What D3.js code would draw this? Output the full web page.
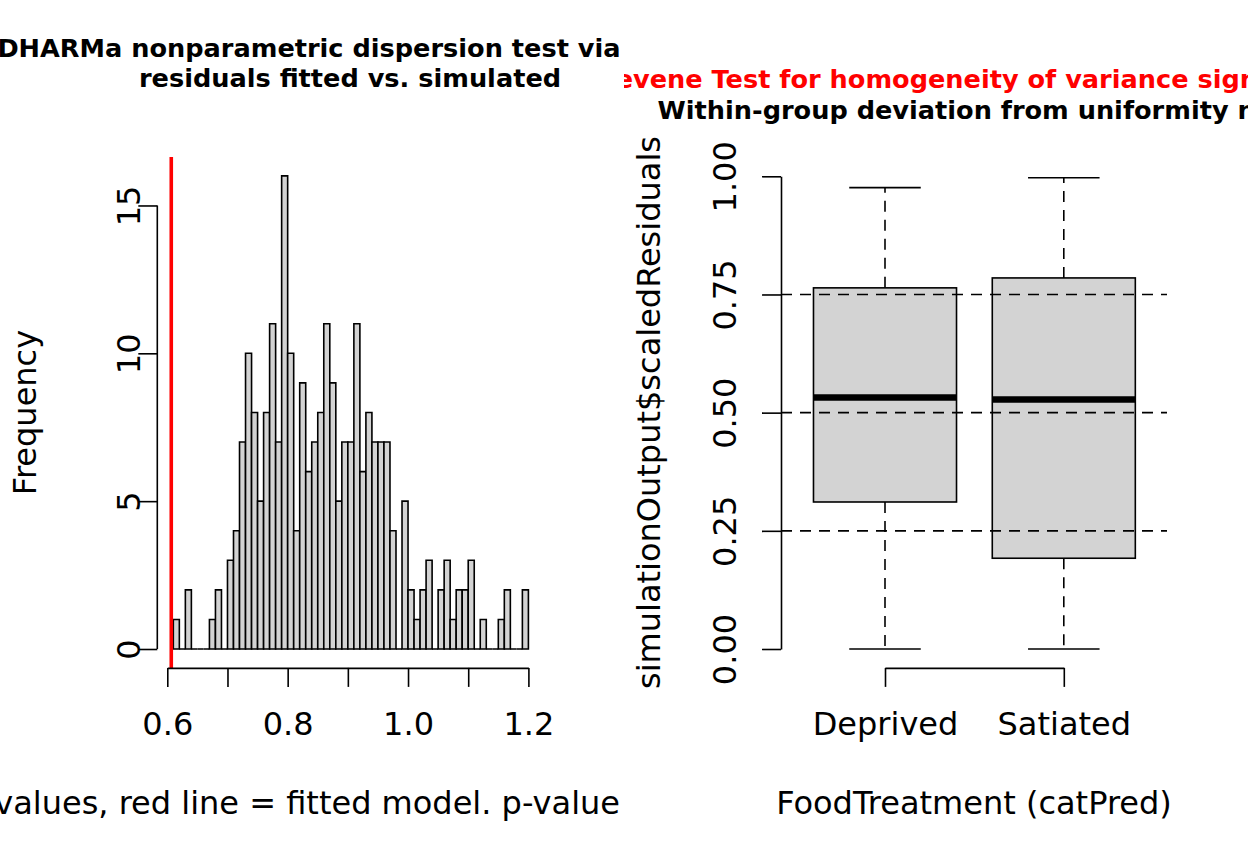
<!DOCTYPE html>
<html><head><meta charset="utf-8">
<script src="https://cdn.jsdelivr.net/npm/d3@7"></script>
<style>body{margin:0;background:#fff} svg{display:block}</style>
</head><body><svg id="c" width="1248" height="864"></svg>
<script>
// ---------- data: left panel (histogram of simulated dispersion) ----------
const binStarts = [0.61,0.62,0.63,0.64,0.65,0.66,0.67,0.68,0.69,0.70,
  0.71,0.72,0.73,0.74,0.75,0.76,0.77,0.78,0.79,0.80,
  0.81,0.82,0.83,0.84,0.85,0.86,0.87,0.88,0.89,0.90,
  0.91,0.92,0.93,0.94,0.95,0.96,0.97,0.98,0.99,1.00,
  1.01,1.02,1.03,1.04,1.05,1.06,1.07,1.08,1.09,1.10,
  1.11,1.12,1.13,1.14,1.15,1.16,1.17,1.18,1.19];
const binWidth = 0.01;
const counts = [1,0,2,0,0,0,1,2,0,3,
  4,7,10,8,5,8,11,7,16,10,
  4,9,6,7,8,11,9,5,7,7,
  11,6,8,7,7,7,4,0,5,2,
  1,2,3,0,2,3,1,2,2,3,
  0,1,0,0,1,2,0,0,2];
const observedValue = 0.6066;
const histXTicks = [0.6,0.7,0.8,0.9,1.0,1.1,1.2];
const histXTickLabels = ["0.6","","0.8","","1.0","","1.2"];
const histYTicks = [0,5,10,15];
const histYTickLabels = ["0","5","10","15"];

// ---------- data: right panel (boxplot by group) ----------
const groups = ["Deprived","Satiated"];
const boxLower  = [0.000, 0.000];
const boxQ1     = [0.311, 0.192];
const boxMedian = [0.532, 0.528];
const boxQ3     = [0.764, 0.785];
const boxUpper  = [0.976, 0.997];
const boxYTicks = [0,0.25,0.5,0.75,1];
const boxYTickLabels = ["0.00","0.25","0.50","0.75","1.00"];
const refLines = [0.25,0.5,0.75];

// ---------- texts ----------
const leftTitle1 = "DHARMa nonparametric dispersion test via";
const leftTitle2 = "residuals fitted vs. simulated";
const leftXLab = "values, red line = fitted model. p-value";
const leftYLab = "Frequency";
const rightTitle1 = "Levene Test for homogeneity of variance significant";
const rightTitle2 = "Within-group deviation from uniformity n.s.";
const rightXLab = "FoodTreatment (catPred)";
const rightYLab = "simulationOutput$scaledResiduals";

// ---------- drawing ----------
const FONT = "DejaVu Sans";
const AX = 32, TT = 25.6, LW = 1.6;
const svg = d3.select("#c");
const defs = svg.append("defs");
defs.append("clipPath").attr("id","clipL").append("rect").attr("x",0).attr("y",0).attr("width",624).attr("height",864);
defs.append("clipPath").attr("id","clipR").append("rect").attr("x",624).attr("y",0).attr("width",624).attr("height",864);

const plotTop = 157.1, plotBottom = 667.9;

// ===== left panel =====
const L = svg.append("g").attr("clip-path","url(#clipL)");
const hx = d3.scaleLinear().domain([0.6,1.2]).range([167.3,528.4]);
const hy = d3.scaleLinear().domain([0,16]).range([649.0,175.9]);

L.append("g").selectAll("path").data(binStarts).join("path")
  .attr("d",(d,i)=>{const x0=hx(d),x1=hx(d+binWidth),y0=hy(0),y1=hy(counts[i]);
     return `M${x0},${y0}V${y1}H${x1}V${y0}Z`;})
  .attr("fill","#d3d3d3").attr("stroke","#000").attr("stroke-width",LW);

L.append("line").attr("x1",hx(observedValue)).attr("x2",hx(observedValue))
  .attr("y1",plotTop).attr("y2",plotBottom).attr("stroke","#ff0000").attr("stroke-width",3.6);

function styleAxis(g){
  g.attr("font-family",FONT).attr("font-size",AX);
  g.selectAll(".tick line").attr("stroke","#000").attr("stroke-width",LW);
  g.select(".domain").attr("stroke","#000").attr("stroke-width",LW);
  g.selectAll("text").attr("fill","#000");
}

const gxL = L.append("g").attr("transform",`translate(0,${plotBottom})`)
  .call(d3.axisBottom(hx).tickValues(histXTicks).tickSize(19).tickSizeOuter(0)
        .tickFormat((d,i)=>histXTickLabels[i]));
styleAxis(gxL);
gxL.selectAll("text").attr("y",735.5-plotBottom).attr("dy",null);

const yAxisXL = 157.3;
const gyL = L.append("g").attr("transform",`translate(${yAxisXL},0)`)
  .call(d3.axisLeft(hy).tickValues(histYTicks).tickSize(19).tickSizeOuter(0)
        .tickFormat((d,i)=>histYTickLabels[i]));
styleAxis(gyL);
gyL.select(".domain").remove();
gyL.append("line").attr("x1",0).attr("x2",0).attr("y1",hy(histYTicks[0])).attr("y2",hy(histYTicks[histYTicks.length-1]))
  .attr("stroke","#000").attr("stroke-width",LW);
gyL.selectAll(".tick text").attr("transform","rotate(-90)").attr("x",0).attr("y",139.5-yAxisXL)
  .attr("dy",null).attr("text-anchor","middle");

L.append("text").attr("x",620.5).attr("y",56.7).attr("text-anchor","end")
  .attr("font-family",FONT).attr("font-weight","bold").attr("font-size",TT).text(leftTitle1);
L.append("text").attr("x",350).attr("y",86.8).attr("text-anchor","middle")
  .attr("font-family",FONT).attr("font-weight","bold").attr("font-size",TT).text(leftTitle2);
L.append("text").attr("x",620).attr("y",813.5).attr("text-anchor","end")
  .attr("font-family",FONT).attr("font-size",AX).text(leftXLab);
L.append("text").attr("transform","translate(35.5,412.5) rotate(-90)").attr("text-anchor","middle")
  .attr("font-family",FONT).attr("font-size",AX).text(leftYLab);

// ===== right panel =====
const R = svg.append("g").attr("clip-path","url(#clipR)");
const bx = d3.scalePoint().domain(groups).range([885,1063.8]);
const unitPx = 1063.8-885;
const halfBox = 0.4*unitPx, halfCap = 0.2*unitPx;
const by = d3.scaleLinear().domain([0,1]).range([649.0,176.3]);
const plotLeftR = 781, plotRightR = 1167;

const bg = R.append("g").selectAll("g").data(groups).join("g");
bg.append("line").attr("x1",d=>bx(d)).attr("x2",d=>bx(d))
  .attr("y1",(d,i)=>by(boxQ3[i])).attr("y2",(d,i)=>by(boxUpper[i]))
  .attr("stroke","#000").attr("stroke-width",LW).attr("stroke-dasharray","11,8");
bg.append("line").attr("x1",d=>bx(d)).attr("x2",d=>bx(d))
  .attr("y1",(d,i)=>by(boxQ1[i])).attr("y2",(d,i)=>by(boxLower[i]))
  .attr("stroke","#000").attr("stroke-width",LW).attr("stroke-dasharray","11,8");
bg.append("line").attr("x1",d=>bx(d)-halfCap).attr("x2",d=>bx(d)+halfCap)
  .attr("y1",(d,i)=>by(boxUpper[i])).attr("y2",(d,i)=>by(boxUpper[i]))
  .attr("stroke","#000").attr("stroke-width",LW);
bg.append("line").attr("x1",d=>bx(d)-halfCap).attr("x2",d=>bx(d)+halfCap)
  .attr("y1",(d,i)=>by(boxLower[i])).attr("y2",(d,i)=>by(boxLower[i]))
  .attr("stroke","#000").attr("stroke-width",LW);
bg.append("rect").attr("x",d=>bx(d)-halfBox).attr("width",2*halfBox)
  .attr("y",(d,i)=>by(boxQ3[i])).attr("height",(d,i)=>by(boxQ1[i])-by(boxQ3[i]))
  .attr("fill","#d3d3d3").attr("stroke","#000").attr("stroke-width",LW);
bg.append("line").attr("x1",d=>bx(d)-halfBox).attr("x2",d=>bx(d)+halfBox)
  .attr("y1",(d,i)=>by(boxMedian[i])).attr("y2",(d,i)=>by(boxMedian[i]))
  .attr("stroke","#000").attr("stroke-width",6.5);

R.append("g").selectAll("line").data(refLines).join("line")
  .attr("x1",plotLeftR).attr("x2",plotRightR).attr("y1",d=>by(d)).attr("y2",d=>by(d))
  .attr("stroke","#000").attr("stroke-width",LW).attr("stroke-dasharray","11,8");

const gyR = R.append("g").attr("transform",`translate(${plotLeftR},0)`)
  .call(d3.axisLeft(by).tickValues(boxYTicks).tickSize(19).tickSizeOuter(0)
        .tickFormat((d,i)=>boxYTickLabels[i]));
styleAxis(gyR);
gyR.selectAll(".tick text").attr("transform","rotate(-90)").attr("x",0).attr("y",736-plotLeftR)
  .attr("dy",null).attr("text-anchor","middle");

const gxR = R.append("g").attr("transform",`translate(0,${plotBottom})`)
  .call(d3.axisBottom(bx).tickSize(19).tickSizeOuter(0));
styleAxis(gxR);
gxR.selectAll("text").attr("y",735.5-plotBottom).attr("dy",null);

R.append("text").attr("x",974).attr("y",87.6).attr("text-anchor","middle").attr("fill","#ff0000")
  .attr("font-family",FONT).attr("font-weight","bold").attr("font-size",TT).text(rightTitle1);
R.append("text").attr("x",974).attr("y",118.6).attr("text-anchor","middle")
  .attr("font-family",FONT).attr("font-weight","bold").attr("font-size",TT).text(rightTitle2);
R.append("text").attr("x",974).attr("y",813.5).attr("text-anchor","middle")
  .attr("font-family",FONT).attr("font-size",AX).text(rightXLab);
R.append("text").attr("transform","translate(659.5,412.5) rotate(-90)").attr("text-anchor","middle")
  .attr("font-family",FONT).attr("font-size",AX).text(rightYLab);
</script></body></html>
